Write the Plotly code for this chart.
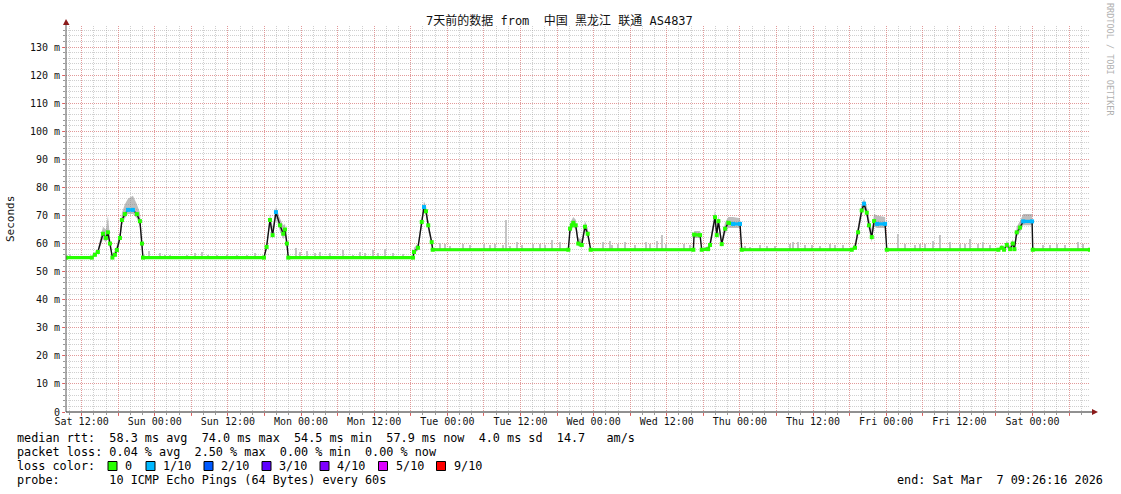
import plotly.graph_objects as go

# ---------------- data ----------------
start_time = "2026-02-28 09:26:16"
end_time = "2026-03-07 09:26:16"

median_time = [
    "2026-02-28 09:27", "2026-02-28 13:41", "2026-02-28 14:11", "2026-02-28 14:40", "2026-02-28 15:30",
    "2026-02-28 15:59", "2026-02-28 16:19", "2026-02-28 16:39", "2026-02-28 17:03", "2026-02-28 17:28",
    "2026-02-28 17:47", "2026-02-28 18:17", "2026-02-28 18:37", "2026-02-28 19:06", "2026-02-28 19:36",
    "2026-02-28 20:25", "2026-02-28 21:04", "2026-02-28 21:34", "2026-02-28 21:54", "2026-02-28 22:04",
    "2026-03-01 17:55", "2026-03-01 18:21", "2026-03-01 18:54", "2026-03-01 19:20", "2026-03-01 19:53",
    "2026-03-01 20:32", "2026-03-01 21:05", "2026-03-01 21:22", "2026-03-01 21:41", "2026-03-01 21:54",
    "2026-03-02 18:22", "2026-03-02 18:32", "2026-03-02 19:11", "2026-03-02 19:48", "2026-03-02 20:10",
    "2026-03-02 20:30", "2026-03-02 20:52", "2026-03-02 21:26", "2026-03-02 21:36",
    "2026-03-03 19:51", "2026-03-03 20:08", "2026-03-03 20:25", "2026-03-03 20:40", "2026-03-03 21:04",
    "2026-03-03 21:29", "2026-03-03 22:03", "2026-03-03 22:35", "2026-03-03 23:02", "2026-03-03 23:31",
    "2026-03-04 16:22", "2026-03-04 16:29", "2026-03-04 17:28", "2026-03-04 17:44", "2026-03-04 18:47",
    "2026-03-04 19:06", "2026-03-04 19:55", "2026-03-04 20:12", "2026-03-04 20:28", "2026-03-04 21:01",
    "2026-03-04 21:34", "2026-03-04 22:06", "2026-03-04 22:52", "2026-03-05 00:01", "2026-03-05 00:18",
    "2026-03-05 18:21", "2026-03-05 18:53", "2026-03-05 19:23", "2026-03-05 19:59", "2026-03-05 20:22",
    "2026-03-05 20:49", "2026-03-05 21:11", "2026-03-05 21:38", "2026-03-05 22:01", "2026-03-05 22:30",
    "2026-03-05 23:49", "2026-03-06 00:06",
    "2026-03-06 18:25", "2026-03-06 18:58", "2026-03-06 19:20", "2026-03-06 19:47", "2026-03-06 20:20",
    "2026-03-06 20:46", "2026-03-06 21:02", "2026-03-06 21:25", "2026-03-06 21:58", "2026-03-06 22:28",
    "2026-03-06 23:56", "2026-03-07 00:03", "2026-03-07 09:26",
]

median_ms = [
    55, 55, 56, 57, 63.5, 62, 64, 60, 55, 56, 57.7, 62, 68.4, 70.5, 72, 72, 70.5, 68, 60, 55,
    55, 58.8, 68.4, 63, 71.2, 66.5, 63.5, 65, 60, 55,
    55, 57, 58.5, 67.7, 73, 71.5, 66.5, 60.5, 57.8,
    57.8, 65.3, 66.5, 67.4, 66.5, 60, 59.5, 66, 63.5, 57.8,
    57.8, 63.2, 63, 57.8, 58, 59.5, 69.4, 63, 68, 59.8, 65.3, 67.4, 67, 67, 57.8,
    57.8, 58.5, 64, 71.8, 74.2, 71, 66.5, 62.3, 68, 67, 67, 57.8,
    57.8, 58.5, 57.8, 59.5, 58, 60, 58, 64, 65.7, 67.9, 67.9, 57.8, 57.8,
]

# packet loss per median point (in tenths)
loss_tenths = [
    0, 0, 0, 0, 0, 0, 0, 0, 0, 0, 0, 0, 0, 0, 1, 1, 0, 0, 0, 0,
    0, 0, 0, 0, 1, 0, 0, 0, 0, 0,
    0, 0, 0, 0, 1, 0, 0, 0, 0,
    0, 0, 0, 0, 0, 0, 0, 0, 0, 0,
    0, 0, 0, 0, 0, 0, 0, 0, 0, 0, 0, 0, 1, 1, 0,
    0, 0, 0, 0, 1, 0, 0, 0, 0, 1, 1, 0,
    0, 0, 0, 0, 0, 0, 0, 0, 0, 1, 1, 0, 0,
]

smoke_hi = [
    55.5, 55.5, 57, 58, 66, 65, 70, 62, 56, 57.5, 59.5, 64, 71, 74, 76, 77, 74, 71, 62, 55.5,
    55.5, 60, 70.5, 66, 73, 69, 66.5, 67, 62, 55.5,
    55.5, 58.5, 60, 70, 75, 73.5, 68.5, 62, 58.3,
    58.3, 67, 68.5, 69.5, 68.5, 62, 61.5, 68, 65.5, 58.3,
    58.3, 64.5, 64.5, 58.3, 59, 61, 72, 65, 70, 61.5, 67.5, 69.5, 69.5, 69, 58.3,
    58.3, 60, 66, 74, 76, 73.5, 69, 65, 70.5, 70, 69.5, 58.3,
    58.3, 59.5, 58.5, 61, 59, 61.5, 59, 66, 68, 70.5, 70.5, 58.3, 58.3,
]

smoke_lo = [
    55, 55, 55.5, 56.5, 61.5, 60.5, 62, 58.5, 55, 55.5, 56.5, 60.5, 66.5, 69, 70.5, 70.5, 69, 66, 58.5, 55,
    55, 58, 66.5, 61.5, 69.5, 64.5, 61.5, 63, 58.5, 55,
    55, 56.5, 57.5, 66, 71.5, 70, 64.5, 59, 57.8,
    57.8, 63.5, 65, 66, 65, 59, 58.5, 64.5, 62, 57.8,
    57.8, 62, 62, 57.8, 57.8, 58.5, 67.5, 61.5, 66.5, 58.8, 63.5, 65.5, 65.5, 65.5, 57.8,
    57.8, 57.8, 62.5, 70, 72.5, 69.5, 64.5, 60.5, 66, 65.5, 65.5, 57.8,
    57.8, 57.8, 57.5, 58.5, 57.5, 58.8, 57.5, 62.5, 64, 66.5, 66.5, 57.8, 57.8,
]

spike_time = [
    "2026-02-28 10:05", "2026-02-28 23:03", "2026-03-01 00:51", "2026-03-01 01:40", "2026-03-01 02:29",
    "2026-03-01 05:17", "2026-03-01 06:37", "2026-03-01 07:45", "2026-03-01 08:44", "2026-03-01 10:12",
    "2026-03-01 11:51", "2026-03-01 13:29", "2026-03-01 15:08", "2026-03-01 16:26", "2026-03-01 23:10",
    "2026-03-01 23:49", "2026-03-02 00:58", "2026-03-02 02:17", "2026-03-02 03:06", "2026-03-02 04:44",
    "2026-03-02 06:53", "2026-03-02 08:31", "2026-03-02 09:40", "2026-03-02 10:29", "2026-03-02 11:48",
    "2026-03-02 12:37", "2026-03-02 13:46", "2026-03-02 15:05", "2026-03-02 16:43",
    "2026-03-02 22:48", "2026-03-02 23:37", "2026-03-03 00:26", "2026-03-03 02:34", "2026-03-03 03:43",
    "2026-03-03 06:01", "2026-03-03 07:00", "2026-03-03 07:49", "2026-03-03 09:08", "2026-03-03 09:38",
    "2026-03-03 10:17", "2026-03-03 11:26", "2026-03-03 12:15", "2026-03-03 14:04", "2026-03-03 15:12",
    "2026-03-03 16:01", "2026-03-03 17:11", "2026-03-03 18:29",
    "2026-03-04 01:33", "2026-03-04 02:41", "2026-03-04 03:01", "2026-03-04 04:00", "2026-03-04 05:09",
    "2026-03-04 06:47", "2026-03-04 08:36", "2026-03-04 09:15", "2026-03-04 10:24", "2026-03-04 11:13",
    "2026-03-04 11:53", "2026-03-04 14:50", "2026-03-04 15:49",
    "2026-03-05 00:51", "2026-03-05 01:40", "2026-03-05 03:19", "2026-03-05 04:27", "2026-03-05 05:46",
    "2026-03-05 08:14", "2026-03-05 08:43", "2026-03-05 09:33", "2026-03-05 10:42", "2026-03-05 11:50",
    "2026-03-05 13:10", "2026-03-05 14:48", "2026-03-05 15:37", "2026-03-05 16:56",
    "2026-03-06 01:57", "2026-03-06 03:07", "2026-03-06 04:45", "2026-03-06 05:34", "2026-03-06 06:23",
    "2026-03-06 07:42", "2026-03-06 08:51", "2026-03-06 10:29", "2026-03-06 12:08", "2026-03-06 12:58",
    "2026-03-06 13:46", "2026-03-06 15:05", "2026-03-06 15:54", "2026-03-06 17:04",
    "2026-03-07 01:45", "2026-03-07 02:55", "2026-03-07 04:03", "2026-03-07 05:22", "2026-03-07 07:29",
    "2026-03-07 08:19",
]
spike_top = [
    55.8, 57.2, 56.5, 56, 56, 56, 56.5, 57, 56, 56,
    56, 55.8, 56, 56.5, 58.5, 57, 57.5, 56.5, 57, 56.5,
    57.8, 56, 57, 56.5, 57.8, 56.5, 58, 56.5, 56.4,
    60.1, 60, 59, 60, 59.5, 60, 59.5, 60, 59.5, 68.3,
    59, 60.5, 59.5, 60, 60, 59.5, 61.2, 60.5,
    60.5, 61, 59.5, 60, 60.5, 59.5, 60.5, 60, 61, 62.9,
    60, 60, 59.5,
    59, 58.8, 59.5, 59, 59, 60, 60.5, 60.5, 59.5, 59.5,
    59, 60, 59.5, 59.5,
    63.5, 60, 59.5, 60, 60, 61, 62.9, 60.5, 60, 60,
    61.5, 60, 60.5, 59.5,
    59.5, 59.5, 60, 59.5, 60.5, 60,
]
spike_base = [55] * 29 + [57.8] * 65

x_tick_times = [
    "2026-02-28 12:00", "2026-03-01 00:00", "2026-03-01 12:00", "2026-03-02 00:00", "2026-03-02 12:00",
    "2026-03-03 00:00", "2026-03-03 12:00", "2026-03-04 00:00", "2026-03-04 12:00", "2026-03-05 00:00",
    "2026-03-05 12:00", "2026-03-06 00:00", "2026-03-06 12:00", "2026-03-07 00:00",
]
x_tick_labels = [
    "Sat 12:00", "Sun 00:00", "Sun 12:00", "Mon 00:00", "Mon 12:00", "Tue 00:00", "Tue 12:00",
    "Wed 00:00", "Wed 12:00", "Thu 00:00", "Thu 12:00", "Fri 00:00", "Fri 12:00", "Sat 00:00",
]
x_mid_times = [
    "2026-02-28 18:00", "2026-03-01 06:00", "2026-03-01 18:00", "2026-03-02 06:00", "2026-03-02 18:00",
    "2026-03-03 06:00", "2026-03-03 18:00", "2026-03-04 06:00", "2026-03-04 18:00", "2026-03-05 06:00",
    "2026-03-05 18:00", "2026-03-06 06:00", "2026-03-06 18:00", "2026-03-07 06:00",
]

y_tick_vals = [0, 10, 20, 30, 40, 50, 60, 70, 80, 90, 100, 110, 120, 130]
y_tick_text = ["0"] + [f"{v} m" for v in y_tick_vals[1:]]

title_text = "7天前的数据 from  中国 黑龙江 联通 AS4837"
stat_lines = [
    "median rtt:  58.3 ms avg  74.0 ms max  54.5 ms min  57.9 ms now  4.0 ms sd  14.7   am/s",
    "packet loss: 0.04 % avg  2.50 % max  0.00 % min  0.00 % now",
]
loss_labels = ["0", "1/10", "2/10", "3/10", "4/10", "5/10", "9/10"]
loss_colors = ["#26ff00", "#00b8ff", "#0059ff", "#5e00ff", "#7e00ff", "#dd00ff", "#ff0000"]
probe_text = "probe:       10 ICMP Echo Pings (64 Bytes) every 60s"
end_text = "end: Sat Mar  7 09:26:16 2026"

# ---------------- geometry ----------------
W, H = 1121, 494
L, R, T, B = 66, 31, 26, 82
PW, PH = W - L - R, H - T - B


def px(x):
    return (x - L) / PW


def py(y):
    return (H - B - y) / PH


MONO = "DejaVu Sans Mono"

fig = go.Figure()

# smoke band
fig.add_trace(go.Scatter(
    x=median_time + median_time[::-1],
    y=smoke_hi + smoke_lo[::-1],
    fill="toself", fillcolor="rgba(135,135,135,0.55)",
    line=dict(width=0), mode="lines", hoverinfo="skip",
))

# smoke spikes on the baseline
fig.add_trace(go.Bar(
    x=spike_time,
    y=[t - b for t, b in zip(spike_top, spike_base)],
    base=spike_base,
    width=1.4e6,
    marker=dict(color="#c4c4c4", line=dict(width=0)),
    hoverinfo="skip",
))

# median line (dark)
fig.add_trace(go.Scatter(
    x=median_time, y=median_ms, mode="lines",
    line=dict(color="#111111", width=1.4), hoverinfo="skip",
))

# flat stretches coloured by loss
for loss_level, col in [(0, loss_colors[0]), (1, loss_colors[1])]:
    sx, sy = [], []
    for i in range(len(median_ms) - 1):
        if abs(median_ms[i + 1] - median_ms[i]) < 0.6 and loss_tenths[i] == loss_level:
            sx += [median_time[i], median_time[i + 1], None]
            sy += [median_ms[i], median_ms[i + 1], None]
    fig.add_trace(go.Scatter(
        x=sx, y=sy, mode="lines", line=dict(color=col, width=3.2),
        hoverinfo="skip", connectgaps=False,
    ))

# sample markers coloured by loss
fig.add_trace(go.Scatter(
    x=median_time, y=median_ms, mode="markers",
    marker=dict(symbol="square", size=4,
                color=[loss_colors[l] for l in loss_tenths], line=dict(width=0)),
    hoverinfo="skip",
))

# ---------------- axes ----------------
tickvals = []
ticktext = []
for t, lab, m in zip(x_tick_times, x_tick_labels, x_mid_times):
    tickvals += [t, m]
    ticktext += [lab, ""]

grid_major = "rgba(240,110,110,0.55)"
grid_minor = "rgba(150,150,150,0.45)"

fig.update_xaxes(
    type="date", range=[start_time, end_time],
    tickmode="array", tickvals=tickvals, ticktext=ticktext,
    tickfont=dict(family=MONO, size=10, color="#111"),
    showgrid=True, gridcolor=grid_major, gridwidth=1, griddash="1px,1px",
    ticks="outside", ticklen=3, tickcolor="rgba(230,80,80,0.8)",
    ticklabelstandoff=-3,
    minor=dict(tickmode="linear", tick0="2026-02-28 12:00", dtick=2 * 3600 * 1000,
               showgrid=True, gridcolor=grid_minor, gridwidth=1, griddash="1px,1px",
               ticks="outside", ticklen=2, tickcolor="#999"),
    showline=False, zeroline=False, fixedrange=True,
)
fig.update_yaxes(
    range=[0, 137.5],
    tickmode="array", tickvals=y_tick_vals, ticktext=y_tick_text,
    tickfont=dict(family=MONO, size=10, color="#111"),
    showgrid=True, gridcolor=grid_major, gridwidth=1, griddash="1px,1px",
    ticks="outside", ticklen=3, tickcolor="rgba(230,80,80,0.8)",
    minor=dict(tickmode="linear", tick0=0, dtick=2,
               showgrid=True, gridcolor=grid_minor, gridwidth=1, griddash="1px,1px",
               ticks="outside", ticklen=2, tickcolor="#999"),
    showline=False, zeroline=False, fixedrange=True,
)

# ---------------- axis lines & arrows ----------------
shapes = [
    dict(type="line", xref="paper", yref="paper", x0=px(66), x1=px(66), y0=py(412), y1=py(24),
         line=dict(color="#555555", width=1)),
    dict(type="line", xref="paper", yref="paper", x0=px(66), x1=px(1094), y0=py(412), y1=py(412),
         line=dict(color="#222222", width=1)),
    dict(type="path", xref="paper", yref="paper",
         path=f"M {px(66)},{py(19)} L {px(63)},{py(25)} L {px(69.5)},{py(25)} Z",
         fillcolor="#8b1a1a", line=dict(width=0)),
    dict(type="path", xref="paper", yref="paper",
         path=f"M {px(1098)},{py(412)} L {px(1092)},{py(409)} L {px(1092)},{py(415)} Z",
         fillcolor="#8b1a1a", line=dict(width=0)),
]

# legend squares
square_x = [108, 146, 204, 262, 320, 378.5, 436.5]
label_x = [123, 161, 219, 277, 335, 393.5, 451.5]
for sx0, col in zip(square_x, loss_colors):
    shapes.append(dict(type="rect", xref="paper", yref="paper",
                       x0=px(sx0), x1=px(sx0 + 9), y0=py(470.5), y1=py(461.5),
                       fillcolor=col, line=dict(color="#000000", width=1)))

annotations = [
    dict(text=title_text, x=px(559), y=py(21), xref="paper", yref="paper",
         xanchor="center", yanchor="middle", showarrow=False,
         font=dict(family=MONO + ", Noto Sans CJK SC", size=12, color="#111")),
    dict(text="Seconds", x=px(10), y=py(219), xref="paper", yref="paper",
         xanchor="center", yanchor="middle", showarrow=False, textangle=-90,
         font=dict(family=MONO, size=11, color="#111")),
    dict(text="RRDTOOL / TOBI OETIKER", x=px(1110), y=py(59), xref="paper", yref="paper",
         xanchor="center", yanchor="middle", showarrow=False, textangle=90,
         font=dict(family=MONO, size=8.5, color="#b0b0b0")),
]
for line_text, yy in zip(stat_lines, [438, 452]):
    annotations.append(dict(text=line_text.replace(" ", "&nbsp;"), x=px(15), y=py(yy),
                            xref="paper", yref="paper", xanchor="left", yanchor="middle",
                            showarrow=False, font=dict(family=MONO, size=11.8, color="#000")))
annotations.append(dict(text="loss&nbsp;color:", x=px(15), y=py(466), xref="paper", yref="paper",
                        xanchor="left", yanchor="middle", showarrow=False,
                        font=dict(family=MONO, size=11.8, color="#000")))
for lx, lab in zip(label_x, loss_labels):
    annotations.append(dict(text=lab, x=px(lx), y=py(466), xref="paper", yref="paper",
                            xanchor="left", yanchor="middle", showarrow=False,
                            font=dict(family=MONO, size=11.8, color="#000")))
annotations.append(dict(text=probe_text.replace(" ", "&nbsp;"), x=px(15), y=py(480),
                        xref="paper", yref="paper", xanchor="left", yanchor="middle",
                        showarrow=False, font=dict(family=MONO, size=11.8, color="#000")))
annotations.append(dict(text=end_text.replace(" ", "&nbsp;"), x=px(1105), y=py(480),
                        xref="paper", yref="paper", xanchor="right", yanchor="middle",
                        showarrow=False, font=dict(family=MONO, size=11.8, color="#000")))

fig.update_layout(
    width=W, height=H, autosize=False,
    margin=dict(l=L, r=R, t=T, b=B, pad=0),
    plot_bgcolor="#ffffff", paper_bgcolor="#ffffff",
    showlegend=False, bargap=0, hovermode=False,
    shapes=shapes, annotations=annotations,
)

fig.write_html("out.html",
               config={"displayModeBar": False, "staticPlot": True},
               post_script="document.body.style.margin='0';document.body.style.padding='0';")
